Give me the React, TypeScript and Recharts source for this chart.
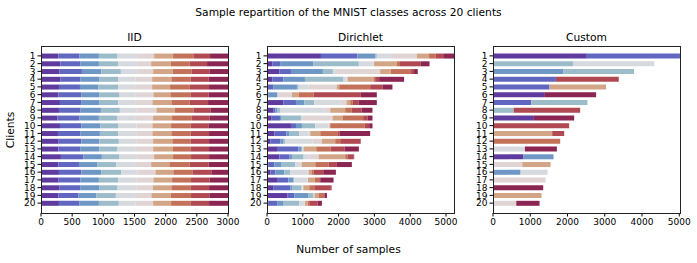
import React from "react";
import { BarChart, Bar, XAxis, YAxis } from "recharts";

// ── class colours (twilight-like ramp, digit 0 → 9) ──
const classColors = [
  "#5f3a9f", "#6167c0", "#6f97c6", "#9cbcca", "#d6d9de",
  "#e0d4d5", "#d2a587", "#c4715a", "#b04951", "#8b2552",
];

const clients = Array.from({ length: 20 }, (_, i) => String(i + 1));

// samples per class, one row per client
const iidCounts = [
  [278, 341, 310, 299, 315, 272, 304, 326, 267, 288],
  [310, 325, 294, 309, 305, 224, 315, 304, 278, 336],
  [299, 358, 309, 315, 262, 256, 315, 304, 283, 299],
  [315, 320, 305, 298, 278, 267, 309, 310, 288, 310],
  [288, 337, 298, 315, 267, 278, 288, 315, 310, 304],
  [278, 368, 294, 320, 261, 283, 272, 321, 293, 310],
  [304, 347, 289, 298, 283, 267, 304, 294, 294, 320],
  [288, 347, 326, 304, 283, 304, 294, 299, 272, 283],
  [262, 357, 310, 299, 293, 278, 304, 315, 288, 294],
  [304, 342, 309, 289, 288, 256, 299, 315, 283, 315],
  [272, 363, 310, 293, 299, 251, 304, 310, 294, 304],
  [283, 363, 288, 315, 278, 272, 309, 294, 294, 304],
  [278, 357, 299, 294, 293, 278, 315, 288, 294, 304],
  [320, 358, 299, 283, 283, 272, 304, 288, 289, 304],
  [278, 331, 298, 299, 299, 262, 293, 326, 304, 310],
  [288, 358, 320, 320, 262, 288, 288, 305, 304, 267],
  [283, 347, 299, 309, 289, 277, 299, 304, 299, 294],
  [294, 341, 305, 288, 299, 267, 298, 305, 299, 304],
  [278, 320, 288, 315, 304, 267, 310, 325, 294, 299],
  [288, 331, 310, 320, 267, 283, 288, 310, 299, 304],
];

const dirichletCounts = [
  [1506, 1022, 492, 47, 390, 725, 344, 186, 232, 279],
  [155, 210, 935, 1265, 410, 15, 635, 90, 570, 255],
  [344, 325, 892, 279, 84, 1236, 297, 567, 84, 102],
  [149, 306, 605, 1078, 93, 18, 725, 47, 111, 697],
  [20, 166, 650, 47, 279, 790, 65, 864, 353, 270],
  [20, 17, 242, 20, 10, 388, 186, 418, 1320, 446],
  [455, 354, 232, 279, 725, 176, 103, 65, 167, 511],
  [186, 46, 65, 65, 1237, 167, 418, 177, 278, 307],
  [130, 232, 28, 558, 56, 827, 279, 576, 121, 139],
  [669, 140, 167, 372, 371, 28, 19, 966, 121, 93],
  [204, 335, 93, 270, 260, 46, 279, 493, 46, 855],
  [93, 279, 93, 46, 762, 261, 371, 140, 566, 10],
  [279, 595, 93, 27, 10, 19, 353, 400, 390, 400],
  [344, 288, 84, 306, 158, 261, 743, 74, 158, 19],
  [37, 167, 205, 381, 158, 19, 381, 371, 233, 418],
  [93, 139, 251, 168, 483, 28, 93, 46, 270, 353],
  [279, 316, 149, 18, 372, 10, 194, 121, 28, 372],
  [186, 465, 65, 251, 27, 19, 167, 140, 464, 19],
  [576, 186, 400, 139, 10, 19, 121, 139, 19, 65],
  [46, 251, 168, 437, 139, 18, 75, 46, 233, 121],
];

const customCounts = [
  [2518, 2501, 0, 0, 0, 0, 0, 0, 0, 0],
  [0, 0, 0, 2161, 2170, 0, 0, 0, 0, 0],
  [0, 0, 1893, 1893, 0, 0, 0, 0, 0, 0],
  [0, 1688, 0, 0, 0, 0, 0, 0, 1688, 0],
  [0, 1518, 0, 0, 0, 0, 1518, 0, 0, 0],
  [1393, 0, 0, 0, 0, 0, 0, 0, 0, 1375],
  [0, 1027, 0, 1509, 0, 0, 0, 0, 0, 0],
  [0, 0, 0, 554, 0, 0, 0, 0, 1786, 0],
  [1098, 0, 0, 0, 0, 0, 0, 0, 0, 1081],
  [0, 0, 0, 0, 0, 0, 0, 0, 2045, 0],
  [0, 0, 0, 0, 0, 0, 1590, 0, 321, 0],
  [0, 0, 0, 0, 0, 0, 0, 1804, 0, 0],
  [0, 0, 0, 0, 857, 0, 0, 0, 0, 858],
  [813, 0, 812, 0, 0, 0, 0, 0, 0, 0],
  [0, 0, 0, 0, 0, 786, 759, 0, 0, 0],
  [0, 0, 741, 0, 724, 0, 0, 0, 0, 0],
  [0, 0, 0, 0, 0, 1411, 0, 0, 0, 0],
  [0, 0, 0, 0, 0, 0, 0, 0, 0, 1348],
  [0, 0, 0, 0, 0, 0, 1304, 0, 0, 0],
  [0, 0, 0, 0, 0, 625, 0, 0, 0, 625],
];

const iidTicks = [0, 500, 1000, 1500, 2000, 2500, 3000];
const bigTicks = [0, 1000, 2000, 3000, 4000, 5000];

const FONT = "'DejaVu Sans', sans-serif";
const INK = "#000";

// plot-area geometry shared by the three panels
const PLOT_TOP = 46;
const PLOT_W = 187;
const PLOT_H = 167;
const Y_W = 41;

const toRows = (m: number[][]) =>
  clients.map((c, i) => {
    const row: Record<string, number | string> = { client: c };
    m[i].forEach((v, k) => (row[`c${k}`] = v));
    return row;
  });

const panels = [
  { title: "IID", plotLeft: 41, domain: [0, 3000], ticks: iidTicks, rows: toRows(iidCounts) },
  { title: "Dirichlet", plotLeft: 267, domain: [0, 5223], ticks: bigTicks, rows: toRows(dirichletCounts) },
  { title: "Custom", plotLeft: 493, domain: [0, 5020], ticks: bigTicks, rows: toRows(customCounts) },
];

function Panel({ p }: { p: (typeof panels)[number] }) {
  const chartW = Y_W + PLOT_W + 16;
  return (
    <>
      <div style={{ position: "absolute", left: p.plotLeft - Y_W, top: 0 }}>
        <BarChart
          width={chartW}
          height={263}
          data={p.rows}
          layout="vertical"
          barCategoryGap="20%"
          margin={{ top: PLOT_TOP, right: 16, bottom: 30, left: 0 }}
        >
          <XAxis
            type="number"
            domain={p.domain}
            ticks={p.ticks}
            allowDataOverflow
            height={20}
            axisLine={false}
            tickSize={3.5}
            tickLine={{ stroke: INK }}
            tick={{ fontSize: 9, fill: INK, fontFamily: FONT }}
            interval={0}
          />
          <YAxis
            type="category"
            dataKey="client"
            width={Y_W}
            padding={{ top: 6, bottom: 6 }}
            axisLine={false}
            tickSize={3.5}
            tickLine={{ stroke: INK }}
            tick={{ fontSize: 9, fill: INK, fontFamily: FONT }}
            interval={0}
          />
          {classColors.map((col, k) => (
            <Bar key={k} dataKey={`c${k}`} stackId="s" fill={col} isAnimationActive={false} />
          ))}
        </BarChart>
      </div>
      {/* axes frame (matplotlib spines) */}
      <div
        style={{
          position: "absolute",
          left: p.plotLeft - 0.5,
          top: PLOT_TOP - 0.5,
          width: PLOT_W + 1,
          height: PLOT_H + 1,
          boxSizing: "border-box",
          border: "1px solid #222",
          pointerEvents: "none",
        }}
      />
      <div
        style={{
          position: "absolute",
          left: p.plotLeft,
          width: PLOT_W,
          top: 31,
          textAlign: "center",
          fontSize: 10.7,
          fontFamily: FONT,
          color: INK,
          lineHeight: "13px",
        }}
      >
        {p.title}
      </div>
    </>
  );
}

export default function App() {
  return (
    <div style={{ position: "absolute", left: 0, top: 0, width: 697, height: 263, background: "#fff", fontFamily: FONT }}>
      <div style={{ position: "absolute", left: 0, width: 697, top: 6, textAlign: "center", fontSize: 10.7, lineHeight: "13px", color: INK }}>
        Sample repartition of the MNIST classes across 20 clients
      </div>
      {panels.map((p) => (
        <Panel key={p.title} p={p} />
      ))}
      <div
        style={{
          position: "absolute",
          left: 10,
          top: 130,
          transform: "translate(-50%, -50%) rotate(-90deg)",
          fontSize: 10.7,
          lineHeight: "13px",
          color: INK,
          whiteSpace: "nowrap",
        }}
      >
        Clients
      </div>
      <div style={{ position: "absolute", left: 0, width: 697, top: 243, textAlign: "center", fontSize: 10.7, lineHeight: "13px", color: INK }}>
        Number of samples
      </div>
    </div>
  );
}
